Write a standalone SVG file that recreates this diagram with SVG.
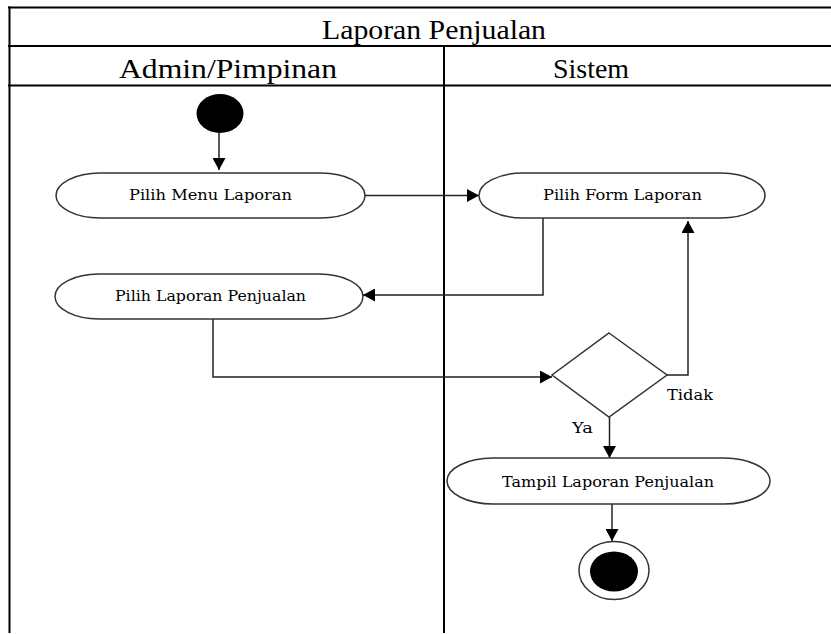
<svg xmlns="http://www.w3.org/2000/svg" width="831" height="634" viewBox="0 0 831 634">
  <style>
    .grid { stroke: #000; stroke-width: 2; fill: none; }
    .head { font-family: "Liberation Serif", "Times New Roman", serif; font-size: 28px; fill: #000; text-anchor: middle; }
    .act { fill: #fff; stroke: #333; stroke-width: 1.5; }
    .lbl { font-family: "DejaVu Serif", "Liberation Serif", serif; font-size: 15px; fill: #000; text-anchor: middle; }
    .guard { font-family: "DejaVu Serif", "Liberation Serif", serif; font-size: 15.5px; fill: #000; }
    .flow { fill: none; stroke: #222; stroke-width: 1.5; marker-end: url(#arrow); }
  </style>
  <defs>
    <marker id="arrow" markerUnits="userSpaceOnUse" markerWidth="12" markerHeight="13" refX="12" refY="6.5" orient="auto">
      <path d="M0,0 L12,6.5 L0,13 Z" fill="#000"/>
    </marker>
  </defs>

  <rect width="831" height="634" fill="#fff"/>

  <!-- swimlane table -->
  <g id="lanes">
    <line class="grid" x1="8" y1="7.5" x2="831" y2="7.5"/>
    <line class="grid" x1="8" y1="46" x2="831" y2="46"/>
    <line class="grid" x1="8" y1="85.5" x2="831" y2="85.5"/>
    <line class="grid" x1="9.5" y1="6.5" x2="9.5" y2="633"/>
    <line class="grid" x1="444" y1="46" x2="444" y2="633"/>
    <text class="head" x="434" y="39" textLength="224" lengthAdjust="spacingAndGlyphs">Laporan Penjualan</text>
    <text class="head" x="228" y="78" textLength="218" lengthAdjust="spacingAndGlyphs">Admin/Pimpinan</text>
    <text class="head" x="591" y="78" textLength="76" lengthAdjust="spacingAndGlyphs">Sistem</text>
  </g>

  <!-- connectors -->
  <g id="connectors">
    <path class="flow" d="M219,133 L219,170"/>
    <path class="flow" d="M365,195.5 L479,195.5"/>
    <path class="flow" d="M543,218 L543,295 L363,295"/>
    <path class="flow" d="M213,319 L213,377 L552,377"/>
    <path class="flow" d="M667,375 L688,375 L688,221"/>
    <path class="flow" d="M609.5,417 L609.5,458"/>
    <path class="flow" d="M612,504 L612,541"/>
    <text class="guard" x="667" y="400" textLength="46" lengthAdjust="spacingAndGlyphs">Tidak</text>
    <text class="guard" x="572" y="433" textLength="21" lengthAdjust="spacingAndGlyphs">Ya</text>
  </g>

  <g id="start">
    <ellipse cx="220" cy="113.5" rx="23.5" ry="19.5" fill="#000"/>
  </g>

  <g id="pilih-menu-laporan">
    <rect class="act" x="56" y="173" width="309" height="45" rx="44" ry="22.5"/>
    <text class="lbl" x="210.5" y="199.5" textLength="163" lengthAdjust="spacingAndGlyphs">Pilih Menu Laporan</text>
  </g>

  <g id="pilih-form-laporan">
    <rect class="act" x="479" y="173" width="286" height="45" rx="44" ry="22.5"/>
    <text class="lbl" x="622.5" y="199.5" textLength="159" lengthAdjust="spacingAndGlyphs">Pilih Form Laporan</text>
  </g>

  <g id="pilih-laporan-penjualan">
    <rect class="act" x="55" y="274" width="308" height="45" rx="44" ry="22.5"/>
    <text class="lbl" x="210.5" y="300.5" textLength="191" lengthAdjust="spacingAndGlyphs">Pilih Laporan Penjualan</text>
  </g>

  <g id="keputusan">
    <polygon class="act" points="609,333 667,375 609,417 552,375"/>
  </g>

  <g id="tampil-laporan-penjualan">
    <rect class="act" x="447" y="458" width="323" height="46" rx="46" ry="23"/>
    <text class="lbl" x="608" y="486.5" textLength="212" lengthAdjust="spacingAndGlyphs">Tampil Laporan Penjualan</text>
  </g>

  <g id="end">
    <ellipse cx="614" cy="570.5" rx="35" ry="29" fill="#fff" stroke="#333" stroke-width="1.5"/>
    <ellipse cx="614" cy="571.5" rx="24" ry="20" fill="#000"/>
  </g>
</svg>
